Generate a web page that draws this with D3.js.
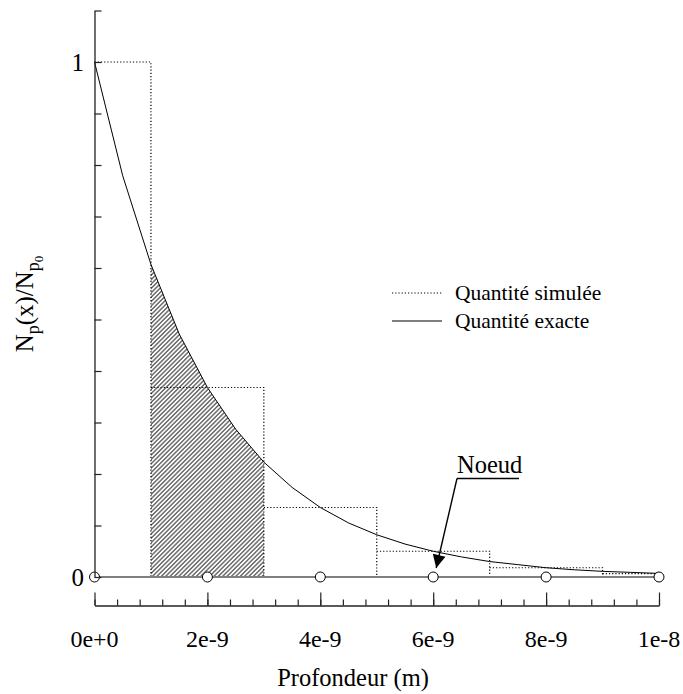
<!DOCTYPE html>
<html>
<head>
<meta charset="utf-8">
<script src="https://cdn.jsdelivr.net/npm/d3@7/dist/d3.min.js"></script>
</head>
<body style="margin:0">
<svg id="chart" width="683" height="694" font-family="Liberation Serif"></svg>
<script>
// ---- data ----
const exactX = [0, 0.5e-9, 1e-9, 1.5e-9, 2e-9, 2.5e-9, 3e-9, 3.5e-9, 4e-9, 4.5e-9, 5e-9,
                5.5e-9, 6e-9, 6.5e-9, 7e-9, 7.5e-9, 8e-9, 8.5e-9, 9e-9, 9.5e-9, 1e-8];
const exactY = [1.0, 0.779, 0.607, 0.472, 0.368, 0.287, 0.223, 0.174, 0.135, 0.105, 0.082,
                0.064, 0.050, 0.039, 0.030, 0.024, 0.018, 0.014, 0.011, 0.009, 0.007];
const binEdges = [0, 1e-9, 3e-9, 5e-9, 7e-9, 9e-9, 1e-8];
const binValues = [1.0, 0.368, 0.135, 0.050, 0.018, 0.0067];
const nodeX = [0, 2e-9, 4e-9, 6e-9, 8e-9, 1e-8];
const nodeY = [0, 0, 0, 0, 0, 0];
const xTickValues = [0, 2e-9, 4e-9, 6e-9, 8e-9, 1e-8];
const xTickLabels = ["0e+0", "2e-9", "4e-9", "6e-9", "8e-9", "1e-8"];
const yTickValues = [0, 1];
const yTickLabels = ["0", "1"];
const hatchRange = [1e-9, 3e-9];
const legendLabels = ["Quantité simulée", "Quantité exacte"];
const annotationLabel = "Noeud";
const annotationNodeX = 6e-9;

const FONT = "Liberation Serif";

// ---- scales ----
const svg = d3.select("#chart");
const x = d3.scaleLinear().domain([0, 1e-8]).range([94.5, 659]);
const y = d3.scaleLinear().domain([0, 1]).range([577, 62]);

// hatch pattern
const defs = svg.append("defs");
const pat = defs.append("pattern")
  .attr("id", "hatch").attr("patternUnits", "userSpaceOnUse")
  .attr("width", 3.1).attr("height", 3.1)
  .attr("patternTransform", "rotate(45)");
pat.append("line").attr("x1", 0.8).attr("y1", 0).attr("x2", 0.8).attr("y2", 3.1)
  .attr("stroke", "#555").attr("stroke-width", 1.3);

const exact = exactX.map((v, i) => ({ x: v, y: exactY[i] }));

// hatched region under exact curve
const hatchPts = exact.filter(d => d.x >= hatchRange[0] - 1e-15 && d.x <= hatchRange[1] + 1e-15);
svg.append("path")
  .datum(hatchPts)
  .attr("d", d3.area().x(d => x(d.x)).y0(y(0)).y1(d => y(d.y)))
  .attr("fill", "url(#hatch)");

// simulated (dotted histogram)
const dotted = "1.2,2";
const binsG = svg.append("g");
binValues.forEach((v, i) => {
  const p = d3.path();
  p.moveTo(x(binEdges[i]), y(v));
  p.lineTo(x(binEdges[i + 1]), y(v));
  p.lineTo(x(binEdges[i + 1]), y(0));
  binsG.append("path").attr("d", p.toString())
    .attr("fill", "none").attr("stroke", "#000")
    .attr("stroke-width", 1.2).attr("stroke-dasharray", dotted);
});

// exact curve
svg.append("path")
  .datum(exact)
  .attr("d", d3.line().x(d => x(d.x)).y(d => y(d.y)))
  .attr("fill", "none").attr("stroke", "#000").attr("stroke-width", 1);

// baseline (gray) with nodes
svg.append("line")
  .attr("x1", x(0)).attr("x2", x(1e-8)).attr("y1", y(0)).attr("y2", y(0))
  .attr("stroke", "#808080").attr("stroke-width", 2);
svg.append("g").selectAll("circle")
  .data(nodeX.map((v, i) => ({ x: v, y: nodeY[i] })))
  .join("circle")
  .attr("cx", d => x(d.x)).attr("cy", d => y(d.y)).attr("r", 5)
  .attr("fill", "#fff").attr("stroke", "#000").attr("stroke-width", 1);

// y axis (ticks pointing right) - drawn with d3.axis, then font attrs stripped
const yAxisScale = d3.scaleLinear().domain([0, 1.1]).range([y(0), y(1.1)]);
const yAx = svg.append("g").attr("transform", `translate(${x(0)},0)`)
  .call(d3.axisRight(yAxisScale).tickValues(d3.range(0, 1.1001, 0.1)).tickSize(7).tickSizeOuter(0).tickFormat(""));
yAx.attr("font-family", null).attr("font-size", null);
yAx.selectAll("text").remove();
yAx.select(".domain").attr("stroke", "#222").attr("stroke-width", 1.3);
yAx.selectAll(".tick line").attr("stroke", "#222").attr("stroke-width", 1.2);

// x axis (separate, ticks pointing up)
const axY = 605.5;
const xMinor = svg.append("g").attr("transform", `translate(0,${axY})`)
  .call(d3.axisTop(x).tickValues(d3.range(0, 25.5).map(k => k * 0.4e-9)).tickSize(6).tickSizeOuter(0).tickFormat(""));
xMinor.attr("font-family", null).attr("font-size", null);
xMinor.selectAll("text").remove();
xMinor.select(".domain").attr("stroke", "#222").attr("stroke-width", 1.3);
xMinor.selectAll(".tick line").attr("stroke", "#222").attr("stroke-width", 1.2);
const xMajor = svg.append("g").attr("transform", `translate(0,${axY})`)
  .call(d3.axisTop(x).tickValues(xTickValues).tickSize(13).tickSizeOuter(0).tickFormat(""));
xMajor.attr("font-family", null).attr("font-size", null);
xMajor.selectAll("text").remove();
xMajor.select(".domain").remove();
xMajor.selectAll(".tick line").attr("stroke", "#222").attr("stroke-width", 1.2);

// all texts
function txt(sel) {
  return sel.append("text").attr("font-family", FONT).style("font-family", FONT);
}
yTickValues.forEach((v, i) => {
  txt(svg).attr("x", 84).attr("y", y(v) + 8.5)
    .attr("text-anchor", "end").attr("font-size", 25).text(yTickLabels[i]);
});
xTickValues.forEach((v, i) => {
  txt(svg).attr("x", x(v)).attr("y", 647)
    .attr("text-anchor", "middle").attr("font-size", 24).text(xTickLabels[i]);
});

txt(svg).attr("x", 353).attr("y", 686)
  .attr("text-anchor", "middle").attr("font-size", 24.5)
  .text("Profondeur (m)");

const yt = txt(svg)
  .attr("transform", "translate(33,304) rotate(-90)")
  .attr("text-anchor", "middle").attr("font-size", 25);
yt.append("tspan").text("N");
yt.append("tspan").attr("font-size", 18).attr("dy", 6).text("p");
yt.append("tspan").attr("dy", -6).text("(x)/N");
yt.append("tspan").attr("font-size", 18).attr("dy", 6).text("p");
yt.append("tspan").attr("font-size", 13).attr("dy", 4).text("0");

// legend
const lg = svg.append("g");
const legendRows = [{ dash: dotted, ly: 293 }, { dash: null, ly: 321 }];
legendRows.forEach((r, i) => {
  const ln = lg.append("line")
    .attr("x1", 392).attr("x2", 442).attr("y1", r.ly).attr("y2", r.ly)
    .attr("stroke", "#000").attr("stroke-width", 1.1);
  if (r.dash) ln.attr("stroke-dasharray", r.dash);
  txt(lg).attr("x", 455).attr("y", r.ly + 7)
    .attr("font-size", 21.5).text(legendLabels[i]);
});

// annotation "Noeud"
defs.append("marker")
  .attr("id", "arrow").attr("viewBox", "0 0 10 10")
  .attr("refX", 10).attr("refY", 5)
  .attr("markerWidth", 16).attr("markerHeight", 13)
  .attr("markerUnits", "userSpaceOnUse")
  .attr("orient", "auto")
  .append("path").attr("d", "M0,0 L10,5 L0,10 Z").attr("fill", "#000");
txt(svg).attr("x", 457).attr("y", 473)
  .attr("font-size", 24.5).text(annotationLabel);
svg.append("line")
  .attr("x1", 457).attr("x2", 519).attr("y1", 478.5).attr("y2", 478.5)
  .attr("stroke", "#000").attr("stroke-width", 1.3);
svg.append("line")
  .attr("x1", 457).attr("y1", 478.5)
  .attr("x2", x(annotationNodeX) + 3).attr("y2", y(0) - 9)
  .attr("stroke", "#000").attr("stroke-width", 1.4)
  .attr("marker-end", "url(#arrow)");
</script>
</body>
</html>
